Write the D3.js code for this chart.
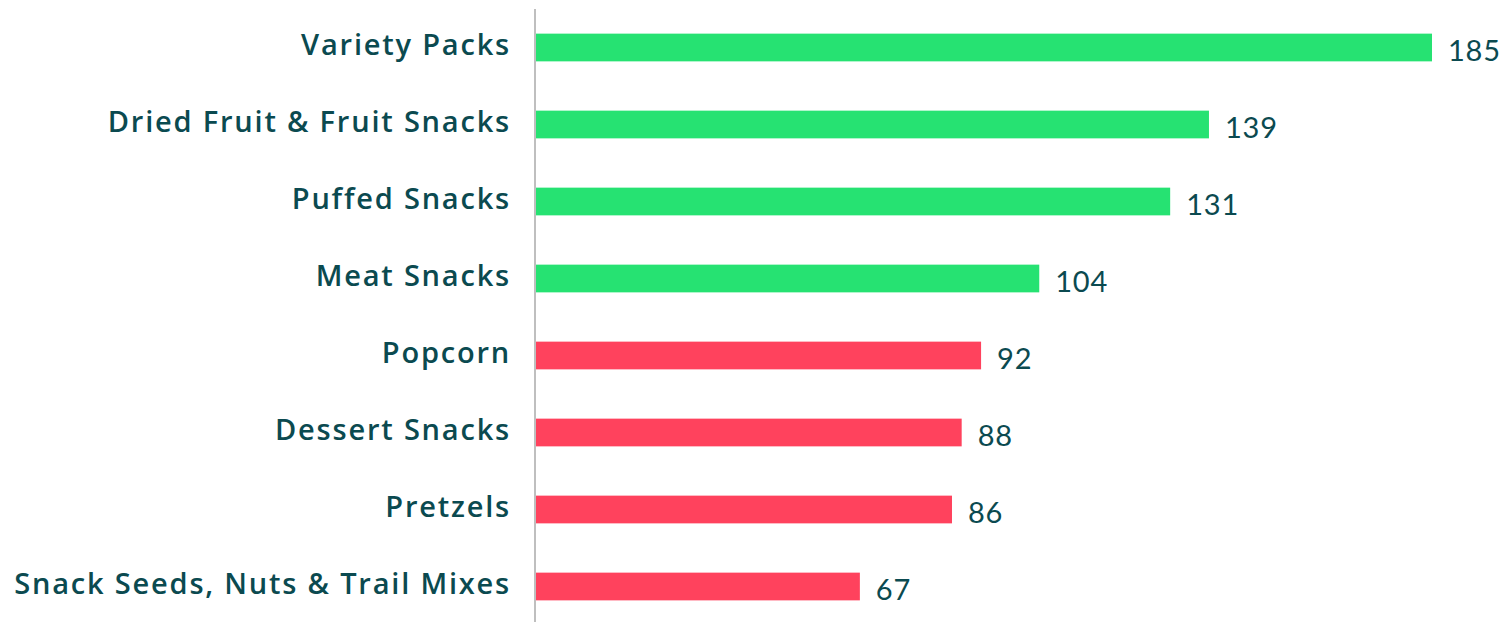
<!doctype html>
<html>
<head>
  <meta charset="utf-8" />
  <script src="https://cdn.jsdelivr.net/npm/d3@7"></script>
  <style>
  body{
    margin: 0;
    background: #ffffff;
    font-family: "Lato", "Open Sans", sans-serif;
  }
  .cat{
    fill: #0b4a50;
    font-family: "Open Sans", sans-serif;
    font-weight: 600;
    font-size: 29px;
    letter-spacing: 1.8px;
  }
  .val{
    fill: #0b4a50;
    font-size: 29px;
    letter-spacing: 0.8px;
  }
  </style>
</head>
<body>
  <div id="chart"></div>
  <script>
  var categories = ["Variety Packs", "Dried Fruit & Fruit Snacks", "Puffed Snacks", "Meat Snacks",
    "Popcorn", "Dessert Snacks", "Pretzels", "Snack Seeds, Nuts & Trail Mixes"];
  var values = [185, 139, 131, 104, 92, 88, 86, 67];
  var colors = ["#26e272", "#26e272", "#26e272", "#26e272", "#ff425d", "#ff425d", "#ff425d", "#ff425d"];

  var width = 1504, height = 622;
  var margin = {top: 9, left: 535};

  var svg = d3.select("#chart")
    .append("svg")
    .attr("width", width)
    .attr("height", height);

  var x = d3.scaleLinear()
    .domain([0, 185])
    .range([margin.left, 1432]);

  var y = d3.scaleBand()
    .domain(categories)
    .range([margin.top, margin.top + 77 * 8])
    .paddingInner(0.64)
    .paddingOuter(0.32);

  var rows = svg.selectAll(".row")
    .data(categories)
    .enter().append("g")
    .attr("class", "row");

  rows.append("rect")
    .attr("x", x(0) + 1)
    .attr("y", function(d){ return y(d); })
    .attr("height", y.bandwidth())
    .attr("width", function(d, i){ return x(values[i]) - x(0) - 1; })
    .attr("fill", function(d, i){ return colors[i]; });

  rows.append("text")
    .attr("class", "cat")
    .attr("x", 511)
    .attr("y", function(d){ return y(d) + y.bandwidth() / 2 + 7; })
    .attr("text-anchor", "end")
    .text(function(d){ return d; });

  rows.append("text")
    .attr("class", "val")
    .attr("x", function(d, i){ return x(values[i]) + 16; })
    .attr("y", function(d){ return y(d) + y.bandwidth(); })
    .text(function(d, i){ return values[i]; });

  // vertical baseline
  svg.append("line")
    .attr("x1", x(0)).attr("x2", x(0))
    .attr("y1", margin.top).attr("y2", height)
    .attr("stroke", "#bfbfbf")
    .attr("stroke-width", 2);
  </script>
</body>
</html>
